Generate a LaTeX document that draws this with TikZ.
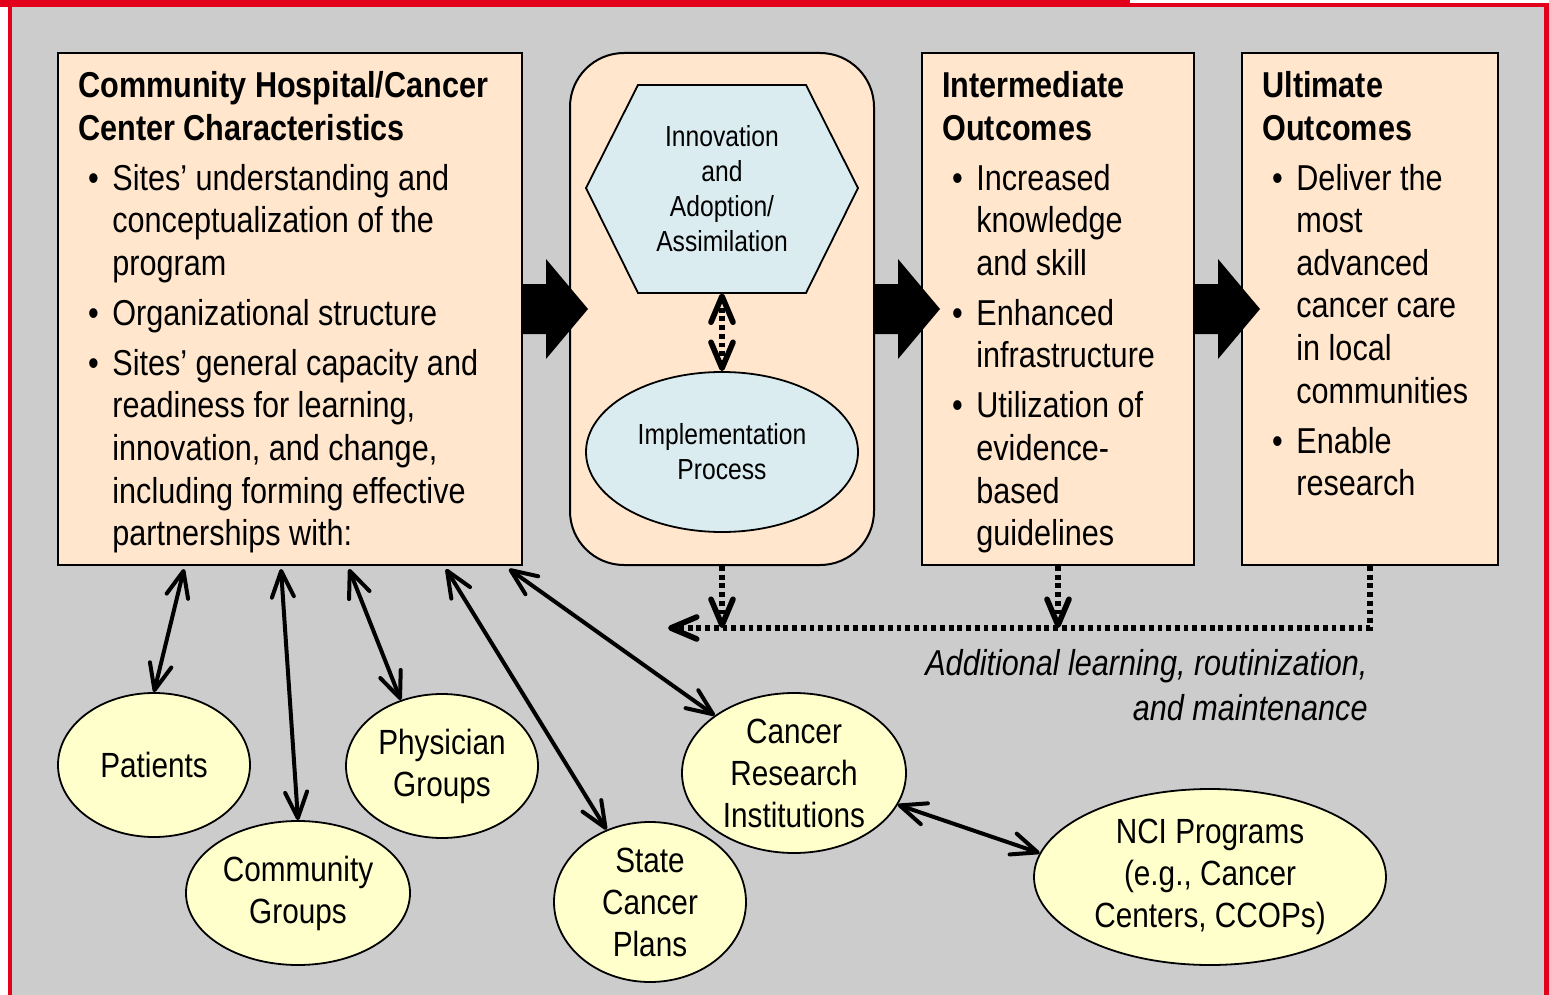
\documentclass[tikz,border=0pt]{standalone}
\usepackage{fontspec}
\setmainfont{Liberation Sans}[FakeStretch=0.85]
\usetikzlibrary{shapes.geometric,arrows.meta}

\definecolor{bggray}{RGB}{204,204,204}
\definecolor{peach}{RGB}{255,230,204}
\definecolor{iceblue}{RGB}{218,236,240}
\definecolor{paleyellow}{RGB}{255,255,204}
\definecolor{framered}{RGB}{226,0,26}

\newcommand{\bul}{\makebox[17pt][l]{\hspace{4.8pt}\textbullet}}
\newcommand{\ind}{\hspace*{17pt}}

\tikzset{
	barb/.tip={Straight Barb[length=13pt,width=11pt,round]},
	outbox/.style={draw, line width=1pt, fill=peach, minimum height=256pt, inner sep=0pt},
	listtxt/.style={anchor=north west, align=left, inner sep=0pt, font=\fontsize{18}{21.3}\selectfont},
	hextxt/.style={align=center, inner sep=0pt, font=\fontsize{14.5}{17.5}\selectfont},
	partner/.style={ellipse, draw, line width=0.9pt, fill=paleyellow, inner sep=-2pt, align=center, font=\fontsize{17.5}{21}\selectfont},
	link/.style={line width=2pt, barb-barb},
	feedback/.style={line width=2.8pt, dash pattern=on 2.4pt off 1.95pt}
}

\begin{document}
\begin{tikzpicture}[x=0.5pt,y=-0.5pt]
		\useasboundingbox (0,0) rectangle (1549,995);
		\fill[white] (0,0) rectangle (1549,995);
		\fill[bggray] (12,7) rectangle (1544,995);
		\fill[framered] (0,0) rectangle (1130,7);
		\fill[framered] (1130,3) rectangle (1549,7);
		\fill[framered] (8,0) rectangle (12,995);
		\fill[framered] (1544,3) rectangle (1549,995);

		\node[outbox, minimum width=232pt] (chars) at (290,309) {};
		\node[outbox, minimum width=152pt, rounded corners=27pt] (adopt) at (722,309) {};
		\node[outbox, minimum width=136pt] (inter) at (1058,309) {};
		\node[outbox, minimum width=128pt] (ult) at (1370,309) {};

		\node[listtxt] (charstxt) at (78,71) {\textbf{Community Hospital/Cancer}\\\textbf{Center Characteristics}\\[3.7pt]
			\bul Sites’ understanding and\\\ind conceptualization of the\\\ind program\\[3.7pt]
			\bul Organizational structure\\[3.7pt]
			\bul Sites’ general capacity and\\\ind readiness for learning,\\\ind innovation, and change,\\\ind including forming effective\\\ind partnerships with:};
		\node[listtxt] (intertxt) at (942,71) {\textbf{Intermediate}\\\textbf{Outcomes}\\[3.7pt]
			\bul Increased\\\ind knowledge\\\ind and skill\\[3.7pt]
			\bul Enhanced\\\ind infrastructure\\[3.7pt]
			\bul Utilization of\\\ind evidence-\\\ind based\\\ind guidelines};
		\node[listtxt] (ulttxt) at (1262,71) {\textbf{Ultimate}\\\textbf{Outcomes}\\[3.7pt]
			\bul Deliver the\\\ind most\\\ind advanced\\\ind cancer care\\\ind in local\\\ind communities\\[3.7pt]
			\bul Enable\\\ind research};

		\draw[line width=0.9pt, fill=iceblue] (586,188) -- (638,85) -- (806,85) -- (858,188) -- (806,293) -- (638,293) -- cycle;
		\node[hextxt, minimum width=136pt, minimum height=104pt] (innov) at (722,189) {Innovation\\and\\Adoption/\\Assimilation};
		\node[ellipse, draw, line width=0.9pt, fill=iceblue, hextxt, minimum width=136pt, minimum height=80pt] (impl) at (722,452) {Implementation\\Process};
		\draw[feedback, barb-barb] (innov.south) -- (impl.north);

		\node[partner, minimum width=96pt, minimum height=72pt] (pat) at (154,765) {Patients};
		\node[partner, minimum width=112pt, minimum height=72pt] (comm) at (298,893) {Community\\Groups};
		\node[partner, minimum width=96pt, minimum height=72pt] (phys) at (442,766) {Physician\\Groups};
		\node[partner, minimum width=96pt, minimum height=80pt] (state) at (650,902) {State\\Cancer\\Plans};
		\node[partner, minimum width=112pt, minimum height=80pt] (crinst) at (794,773) {Cancer\\Research\\Institutions};
		\node[partner, minimum width=176pt, minimum height=88pt] (nci) at (1210,877) {NCI Programs\\(e.g., Cancer\\Centers, CCOPs)};

		\draw[link] ([xshift=63.5pt,yshift=-1.5pt]chars.south west) -- (pat.north);
		\draw[link] ([xshift=112pt,yshift=-1.5pt]chars.south west) -- (comm.north);
		\draw[link] ([xshift=146pt,yshift=-1.5pt]chars.south west) -- (phys.122);
		\draw[link] ([xshift=194.5pt,yshift=-1.5pt]chars.south west) -- (state.121);
		\draw[link] ([xshift=226pt,yshift=-1.5pt]chars.south west) -- (crinst.144);
		\draw[link] (crinst.-17) -- (nci.172);

		\coordinate (fbend) at (668,628);
		\draw[feedback, -barb] (adopt.south) -- (adopt.south |- fbend);
		\draw[feedback, -barb] (inter.south) -- (inter.south |- fbend);
		\draw[feedback, -barb] (ult.south) -- (ult.south |- fbend) -- (fbend);
		\node[anchor=north east, align=right, inner sep=0pt, font=\fontsize{18}{22.5}\selectfont\itshape] (note) at (1368,649) {Additional learning, routinization,\\and maintenance};

		\foreach \src in {chars,adopt,inter}
			\fill ([yshift=12.5pt]\src.east) -- ++(11.5pt,0) -- ++(0,12.5pt) -- ++(21pt,-25pt) -- ++(-21pt,-25pt) -- ++(0,12.5pt) -- ++(-11.5pt,0) -- cycle;
	\end{tikzpicture}
\end{document}
